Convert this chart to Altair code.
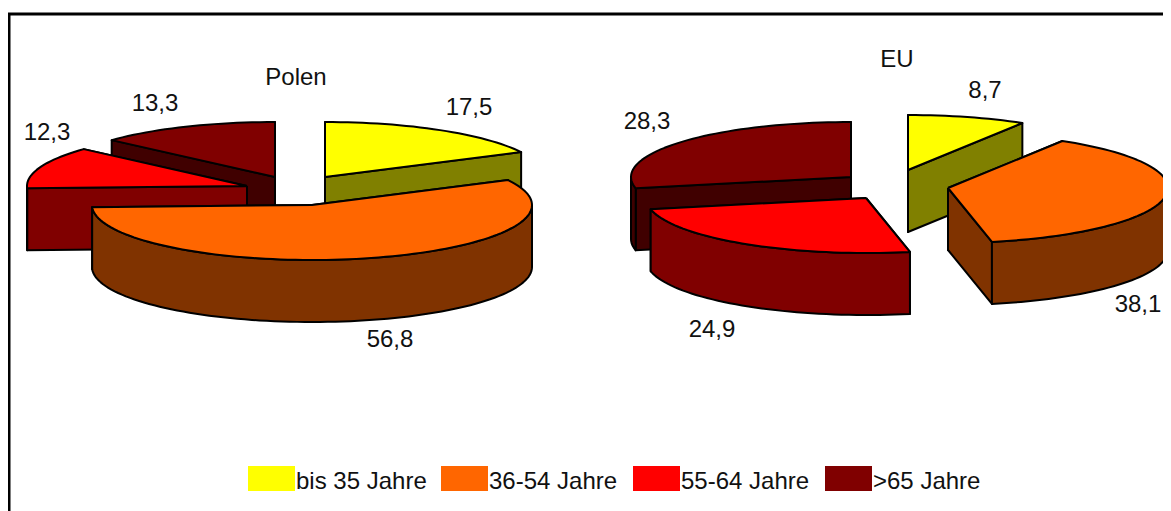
import numpy as np
import pandas as pd
import altair as alt

# Values
categories = ["bis 35 Jahre", "36-54 Jahre", "55-64 Jahre", ">65 Jahre"]
polen_values = [17.5, 56.8, 12.3, 13.3]
eu_values = [8.7, 38.1, 24.9, 28.3]
polen_labels = ["17,5", "56,8", "12,3", "13,3"]
eu_labels = ["8,7", "38,1", "24,9", "28,3"]
pie_titles = ["Polen", "EU"]

top_colors = ["#FFFF00", "#FF6600", "#FF0000", "#800000"]
side_colors = ["#808000", "#803300", "#800000", "#400000"]

# Exploded slice apex per slice, ellipse radii and extrusion depth
polen_apex = [(325, 177), (312, 205), (247, 186), (275, 177)]
eu_apex = [(908, 170), (948, 188), (866, 198), (851, 177)]
polen_order = [3, 0, 2, 1]
eu_order = [3, 0, 1, 2]
RX, RY, DEPTH = 220, 55, 62

polen_label_pos = [(469, 107), (390, 339), (47, 132), (155, 103)]
eu_label_pos = [(985, 90), (1138, 304), (712, 329), (647, 121)]
title_pos = [(296, 77), (897, 59)]
legend_x = [248, 441, 633, 825]
legend_w = 47
legend_y = (466, 491)
frame_x, frame_y = 9, 14

XD = [8, 1163]
YD = [511, 8]

rows = []
pid = [0]


def add(points, color):
    pts = list(points) + [points[0]]
    for i, (x, y) in enumerate(pts):
        rows.append({"poly": pid[0], "i": i, "x": float(x), "y": float(y), "c": color})
    pid[0] += 1


def pt(apex, deg, dz=0):
    a = np.radians(deg)
    return apex[0] + RX * np.sin(a), apex[1] - RY * np.cos(a) + dz


def arc(apex, a0, a1, dz=0):
    n = max(2, int(abs(a1 - a0) / 2) + 2)
    return [pt(apex, d, dz) for d in np.linspace(a0, a1, n)]


def add_pie(values, apexes, order):
    edges = np.concatenate([[0], np.cumsum(values)]) / np.sum(values) * 360
    for k in order:
        ap, a0, a1 = apexes[k], edges[k], edges[k + 1]
        top, side = top_colors[k], side_colors[k]
        ap2 = (ap[0], ap[1] + DEPTH)
        # radial walls, the one further back first
        walls = sorted([a0, a1], key=lambda d: pt(ap, d)[1])
        for d in walls:
            add([ap, pt(ap, d), pt(ap, d, DEPTH), ap2], side)
        # outer rim, only the part that faces the viewer
        r0, r1 = max(a0, 90), min(a1, 270)
        if r1 > r0:
            add(arc(ap, r0, r1) + arc(ap, r1, r0, DEPTH), side)
        add([ap] + arc(ap, a0, a1), top)


add_pie(polen_values, polen_apex, polen_order)
add_pie(eu_values, eu_apex, eu_order)
df = pd.DataFrame(rows)


def sx(field):
    return alt.X(field, scale=alt.Scale(domain=XD, nice=False, zero=False), axis=None)


def sy(field):
    return alt.Y(field, scale=alt.Scale(domain=YD, nice=False, zero=False), axis=None)


pies = alt.Chart(df).mark_line(stroke="black", strokeWidth=2, strokeJoin="round").encode(
    x=sx("x:Q"), y=sy("y:Q"),
    detail="poly:N",
    fill=alt.Fill("c:N", scale=None),
    order="i:Q",
)

labels = pd.DataFrame(
    [{"x": p[0], "y": p[1], "t": t} for p, t in zip(polen_label_pos + eu_label_pos + title_pos,
                                                    polen_labels + eu_labels + pie_titles)]
)
text_font = dict(font="Liberation Sans", fontSize=24, color="#111111", dy=1)
label_marks = alt.Chart(labels).mark_text(baseline="middle", align="center", **text_font).encode(
    x=sx("x:Q"), y=sy("y:Q"), text="t:N"
)

legend_df = pd.DataFrame({
    "x": legend_x,
    "x2": [v + legend_w for v in legend_x],
    "y": [legend_y[0]] * 4,
    "y2": [legend_y[1]] * 4,
    "tx": [v + legend_w + 1 for v in legend_x],
    "ty": [(legend_y[0] + legend_y[1]) / 2 + 2] * 4,
    "c": top_colors,
    "t": categories,
})
swatches = alt.Chart(legend_df).mark_rect().encode(
    x=sx("x:Q"), x2="x2:Q", y=sy("y:Q"), y2="y2:Q", fill=alt.Fill("c:N", scale=None)
)
legend_text = alt.Chart(legend_df).mark_text(baseline="middle", align="left", **text_font).encode(
    x=sx("tx:Q"), y=sy("ty:Q"), text="t:N",
)

frame_df = pd.DataFrame({"fx": [frame_x], "fy": [frame_y]})
frame_v = alt.Chart(frame_df).mark_rule(color="black", strokeWidth=3).encode(
    x=sx("fx:Q"), y=alt.value(6), y2=alt.value(503),
)
frame_h = alt.Chart(frame_df).mark_rule(color="black", strokeWidth=3).encode(
    y=sy("fy:Q"), x=alt.value(0), x2=alt.value(1155),
)

chart = (
    alt.layer(frame_v, frame_h, pies, swatches, legend_text, label_marks)
    .resolve_scale(fill="independent")
    .properties(width=1155, height=503, padding=0, background="white",
                autosize=alt.AutoSizeParams(type="none"))
    .configure_view(stroke=None)
)
chart.save("out.html", embed_options={"renderer": "svg", "actions": False})
